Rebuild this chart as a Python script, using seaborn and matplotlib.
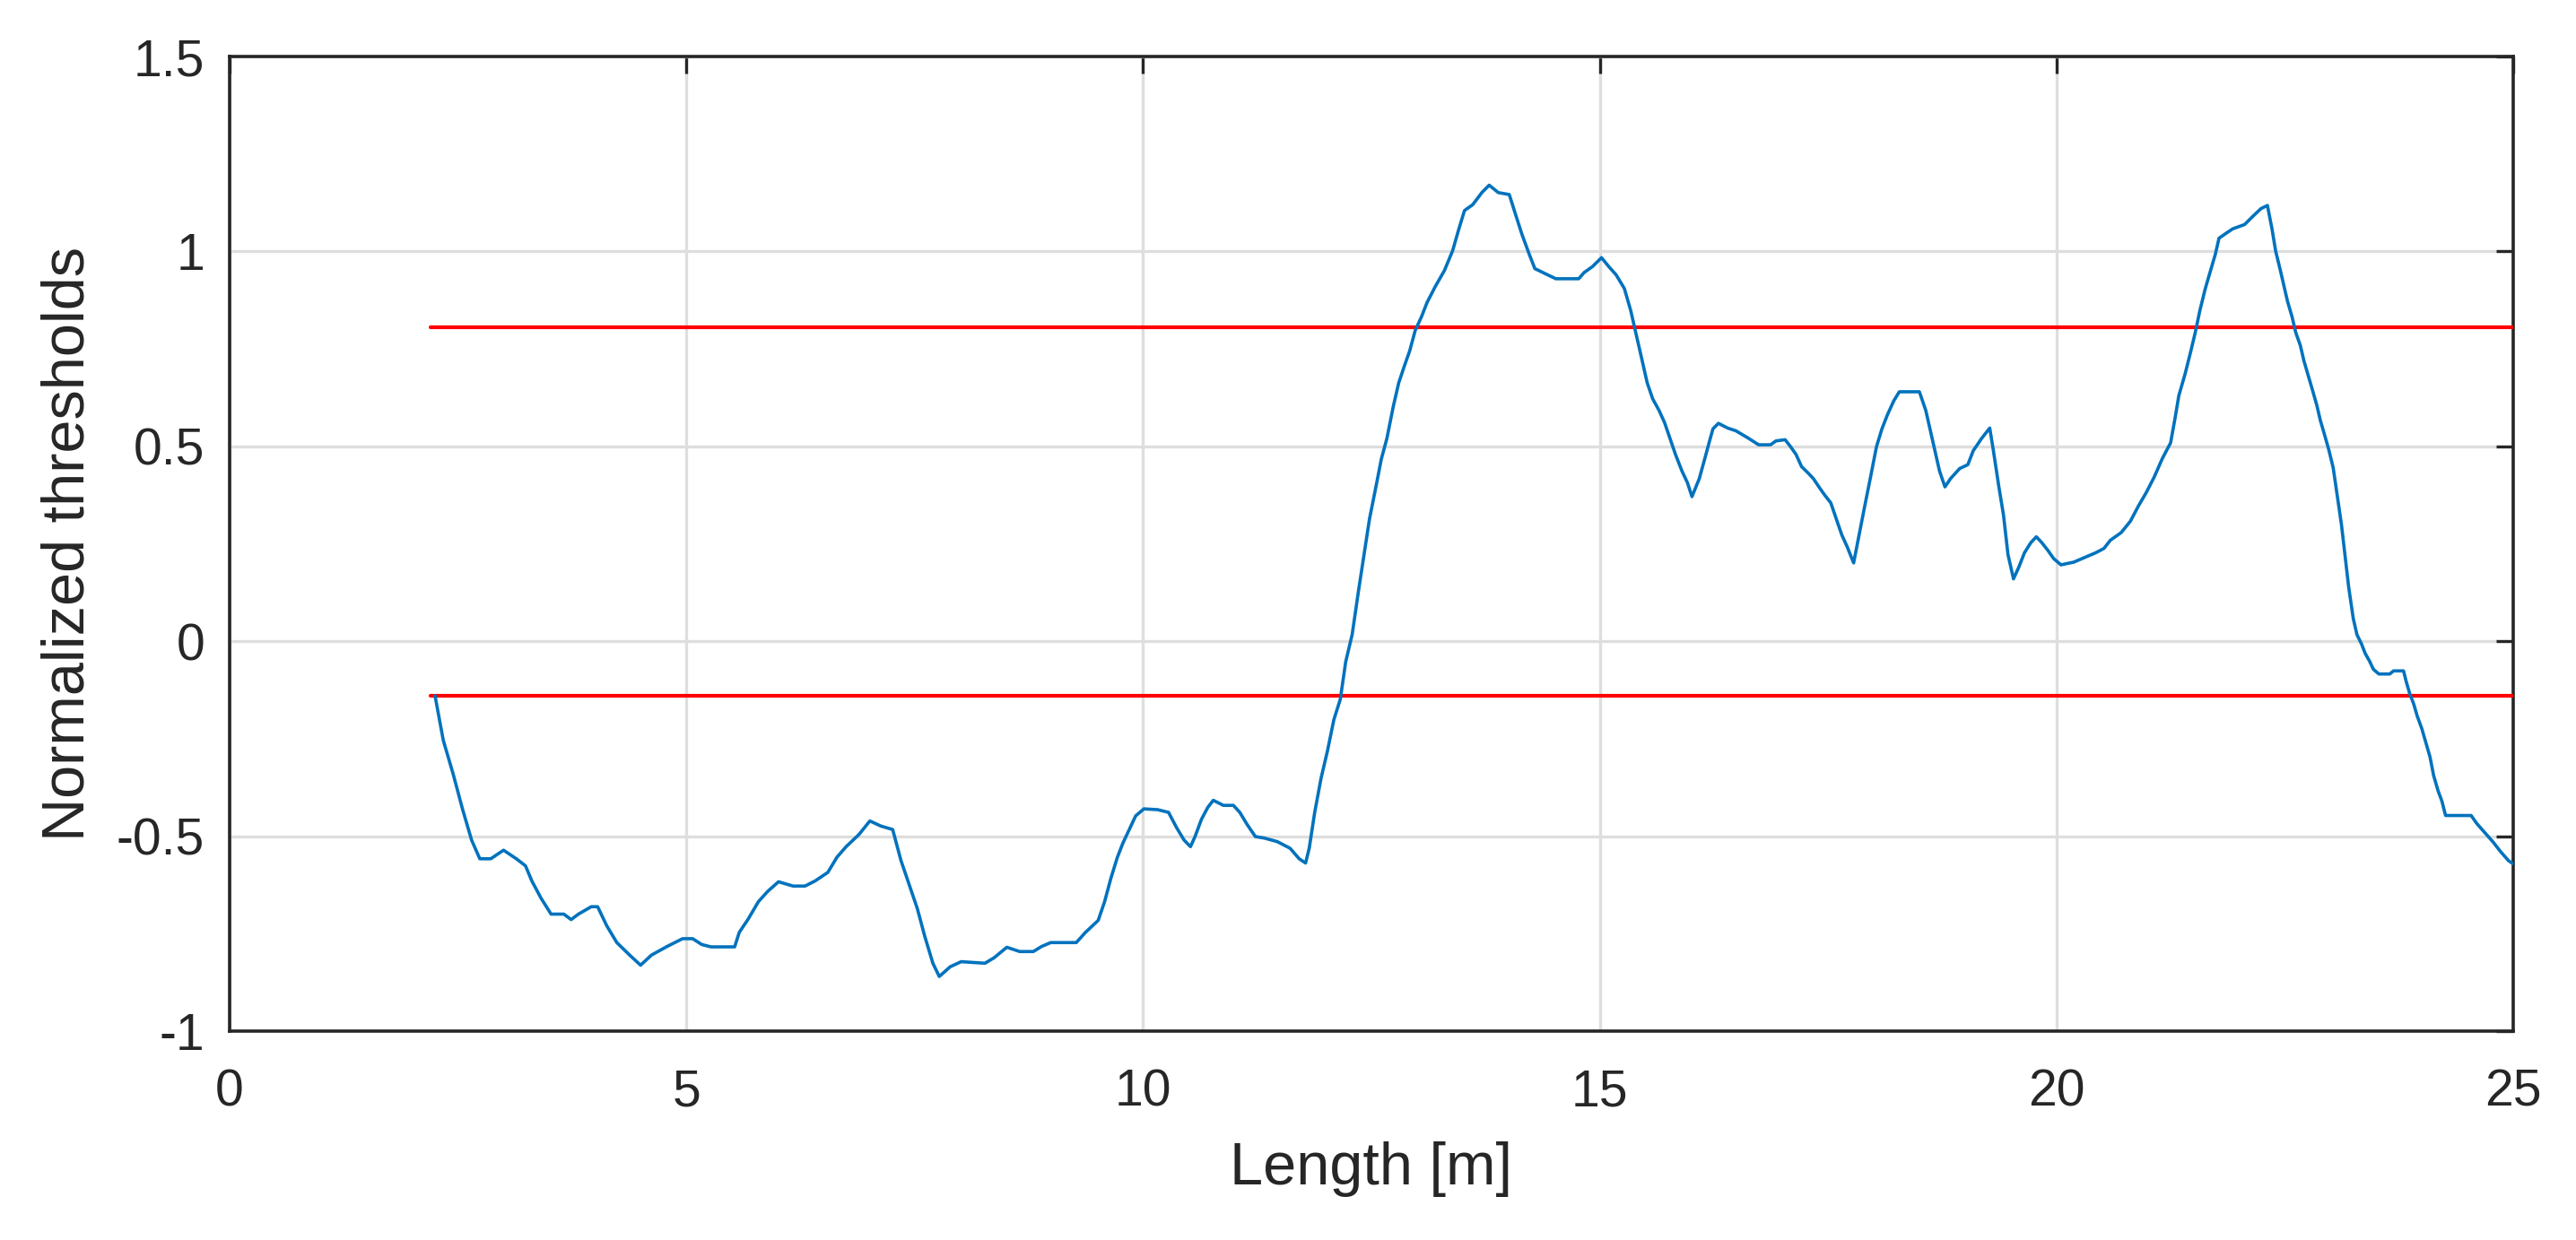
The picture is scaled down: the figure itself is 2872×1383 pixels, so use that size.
import matplotlib
matplotlib.use("Agg")
import matplotlib.pyplot as plt
import seaborn as sns
import pandas as pd

length_m = [
    2.25, 2.34, 2.45, 2.55, 2.65, 2.74, 2.86, 3.00, 3.14, 3.24, 3.31, 3.41, 3.52, 3.66, 3.74, 3.82,
    3.96, 4.03, 4.13, 4.24, 4.38, 4.50, 4.62, 4.79, 4.96, 5.07, 5.17, 5.27, 5.53, 5.58, 5.68, 5.79,
    5.89, 6.01, 6.17, 6.30, 6.41, 6.55, 6.65, 6.75, 6.89, 7.01, 7.13, 7.26, 7.35, 7.44, 7.53, 7.61,
    7.70, 7.77, 7.89, 8.01, 8.27, 8.37, 8.51, 8.65, 8.80, 8.89, 8.99, 9.27, 9.37, 9.51, 9.58, 9.65,
    9.72, 9.78, 9.85, 9.92, 10.01, 10.16, 10.28, 10.37, 10.45, 10.52, 10.57, 10.64, 10.71, 10.77,
    10.88, 10.99, 11.06, 11.14, 11.23, 11.33, 11.47, 11.61, 11.71, 11.78, 11.82, 11.88, 11.95,
    12.02, 12.09, 12.16, 12.22,
    12.29, 12.36, 12.42, 12.48, 12.55, 12.61, 12.67, 12.74, 12.80, 12.86, 12.92, 12.98, 13.05,
    13.11, 13.20, 13.30, 13.39, 13.46, 13.52, 13.61, 13.71, 13.79, 13.89, 14.01, 14.08, 14.15,
    14.23, 14.29, 14.43, 14.52, 14.77, 14.83, 14.92, 15.02, 15.10, 15.18, 15.27, 15.34, 15.40,
    15.46, 15.52, 15.58, 15.65, 15.71, 15.77, 15.83, 15.90, 15.96, 16.01, 16.09, 16.15, 16.21,
    16.24, 16.30, 16.40, 16.49, 16.62, 16.74, 16.87, 16.93, 17.03, 17.09, 17.15, 17.21, 17.28,
    17.34, 17.40, 17.46, 17.53, 17.59, 17.65, 17.71, 17.78, 17.84, 17.90, 17.97, 18.03, 18.09,
    18.15, 18.22, 18.28, 18.50, 18.57, 18.62, 18.67, 18.72, 18.78, 18.84, 18.94, 19.03, 19.09,
    19.18, 19.27, 19.31, 19.37, 19.42, 19.47, 19.53, 19.59, 19.65, 19.72, 19.78, 19.84, 19.91,
    19.97, 20.05,
    20.19, 20.32, 20.43, 20.52, 20.59, 20.71, 20.81, 20.90, 20.98, 21.07, 21.16, 21.25, 21.30,
    21.34, 21.41, 21.47, 21.52, 21.57, 21.63, 21.69, 21.74, 21.78, 21.86, 21.93, 22.06, 22.15,
    22.24, 22.31, 22.36, 22.40, 22.45, 22.49, 22.53, 22.58, 22.62, 22.67, 22.71, 22.76, 22.80,
    22.85, 22.89, 22.94, 22.98, 23.03, 23.07, 23.12, 23.16, 23.20, 23.25, 23.29, 23.34, 23.38,
    23.43, 23.47, 23.53, 23.65, 23.69, 23.80, 23.83, 23.87, 23.91, 23.95, 24.00, 24.05, 24.09,
    24.13, 24.18, 24.22, 24.26, 24.54, 24.60, 24.69, 24.78, 24.86, 24.95, 25.00,
]
norm_threshold = [
    -0.140, -0.254, -0.342, -0.430, -0.510, -0.558, -0.558, -0.536, -0.558, -0.576, -0.615, -0.659,
    -0.700, -0.700, -0.714, -0.700, -0.681, -0.681, -0.730, -0.773, -0.805, -0.831, -0.805, -0.783,
    -0.763, -0.763, -0.778, -0.784, -0.784, -0.747, -0.712, -0.668, -0.642, -0.617, -0.628, -0.628,
    -0.615, -0.593, -0.554, -0.527, -0.496, -0.461, -0.474, -0.483, -0.562, -0.624, -0.686, -0.756,
    -0.826, -0.860, -0.835, -0.822, -0.826, -0.812, -0.785, -0.796, -0.796, -0.783, -0.773, -0.773,
    -0.747, -0.716, -0.668, -0.607, -0.554, -0.518, -0.483, -0.448, -0.430, -0.432, -0.439, -0.479,
    -0.510, -0.527, -0.501, -0.457, -0.426, -0.408, -0.421, -0.421, -0.439, -0.470, -0.501, -0.505,
    -0.514, -0.531, -0.558, -0.569, -0.531, -0.439, -0.351,
    -0.281, -0.201, -0.149, -0.052,
    0.017, 0.130, 0.222, 0.314, 0.396, 0.468, 0.520, 0.602, 0.663, 0.705, 0.745, 0.797, 0.833,
    0.869, 0.910, 0.951, 1.002, 1.059, 1.105, 1.120, 1.151, 1.170, 1.151, 1.146, 1.094, 1.043,
    0.992, 0.956, 0.940, 0.930, 0.930, 0.946, 0.961, 0.984, 0.961, 0.940, 0.905, 0.848, 0.787,
    0.725, 0.663, 0.622, 0.592, 0.561, 0.520, 0.479, 0.437, 0.407, 0.371, 0.417, 0.468, 0.520,
    0.545, 0.559, 0.547, 0.540, 0.522, 0.504, 0.504, 0.514, 0.517, 0.499, 0.479, 0.448, 0.432,
    0.417, 0.396, 0.376, 0.355, 0.314, 0.273, 0.242, 0.201, 0.273, 0.345, 0.427, 0.499, 0.545,
    0.581, 0.617, 0.640, 0.640, 0.592, 0.540, 0.489, 0.437, 0.396, 0.417, 0.443, 0.453, 0.489,
    0.520, 0.547, 0.489, 0.396, 0.325, 0.222, 0.160, 0.191, 0.227, 0.253, 0.268, 0.253, 0.232,
    0.212, 0.196,
    0.203, 0.216, 0.227, 0.238, 0.259, 0.279, 0.308, 0.348, 0.380, 0.421, 0.469, 0.509, 0.574,
    0.630, 0.687, 0.743, 0.792, 0.848, 0.905, 0.953, 0.993, 1.034, 1.047, 1.058, 1.069, 1.090,
    1.110, 1.118, 1.058, 1.001, 0.953, 0.913, 0.872, 0.832, 0.792, 0.759, 0.719, 0.679, 0.647,
    0.606, 0.566, 0.526, 0.493, 0.445, 0.380, 0.300, 0.219, 0.138, 0.058, 0.017, -0.007, -0.031,
    -0.052, -0.072, -0.084, -0.084, -0.076, -0.076, -0.104, -0.136, -0.160, -0.192, -0.224, -0.265,
    -0.297, -0.345, -0.385, -0.410, -0.447, -0.447, -0.467, -0.491, -0.515, -0.539, -0.563, -0.571,
]

# threshold levels (red lines) and their span along the length
upper_level = 0.805
lower_level = -0.14
level_span = [2.2, 25.0]

x_ticks = [0, 5, 10, 15, 20, 25]
y_ticks = [-1, -0.5, 0, 0.5, 1, 1.5]
y_tick_labels = ["-1", "-0.5", "0", "0.5", "1", "1.5"]

df = pd.DataFrame({"Length": length_m, "Value": norm_threshold})
levels = pd.DataFrame({
    "Length": level_span * 2,
    "Value": [upper_level] * 2 + [lower_level] * 2,
    "Level": ["upper"] * 2 + ["lower"] * 2,
})

sns.set_style("white")
plt.rcParams["font.family"] = ["Liberation Sans", "DejaVu Sans"]

fig = plt.figure(figsize=(14.36, 6.915), dpi=200)
ax = fig.add_axes([0.0891, 0.1685, 0.8865, 0.7859])

ax.grid(True, color="#dedede", linewidth=1.2)
ax.set_axisbelow(True)

sns.lineplot(data=levels, x="Length", y="Value", units="Level", estimator=None,
             color="#ff0000", linewidth=1.5, ax=ax, zorder=3)
sns.lineplot(data=df, x="Length", y="Value", color="#0072bd", linewidth=1.3,
             estimator=None, sort=False, ax=ax, zorder=4)

ax.set_xlim(0, 25)
ax.set_ylim(-1, 1.5)
ax.set_xticks(x_ticks)
ax.set_yticks(y_ticks)
ax.set_yticklabels(y_tick_labels)

ax.tick_params(axis="both", direction="in", length=7, width=1.2, colors="#262626",
               labelsize=20.5, top=True, right=True)
ax.tick_params(axis="x", pad=15)
ax.tick_params(axis="y", pad=10)
for spine in ax.spines.values():
    spine.set_visible(True)
    spine.set_color("#262626")
    spine.set_linewidth(1.3)

ax.set_xlabel("Length [m]", fontsize=24, color="#262626", labelpad=10)
ax.set_ylabel("Normalized thresholds", fontsize=24, color="#262626", labelpad=8)

fig.savefig("out.png", dpi=200)
